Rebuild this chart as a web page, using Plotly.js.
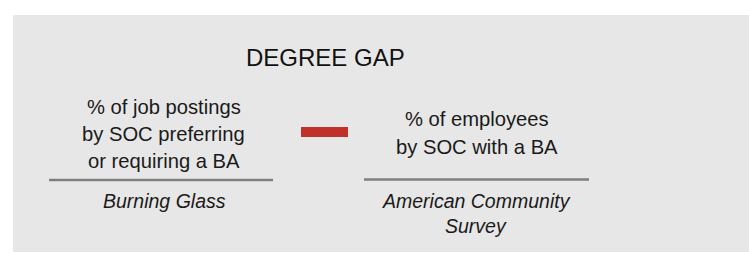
<!DOCTYPE html>
<html>
<head>
<meta charset="utf-8">
<script src="https://cdn.plot.ly/plotly-3.0.1.min.js"></script>
<style>
html,body{margin:0;padding:0;background:#fff;}
#chart{width:749px;height:253px;}
</style>
</head>
<body>
<div id="chart"></div>
<script>
// Text content of the diagram
var titleText = "DEGREE GAP";
var leftLines = ["% of job postings", "by SOC preferring", "or requiring a BA"];
var leftSource = ["Burning Glass"];
var rightLines = ["% of employees", "by SOC with a BA"];
var rightSource = ["American Community", "Survey"];

var FONT = "Liberation Sans, Arial, sans-serif";
var annotations = [];

function addLines(lines, cx, y0, step, size, italic) {
  lines.forEach(function (t, i) {
    annotations.push({
      x: cx, y: y0 + i * step, xref: "x", yref: "y",
      text: italic ? "<i>" + t + "</i>" : t,
      showarrow: false, xanchor: "center", yanchor: "middle",
      font: {family: FONT, size: size, color: "#1a1a1a"}
    });
  });
}

annotations.push({
  x: 325, y: 57, xref: "x", yref: "y", text: titleText, showarrow: false,
  xanchor: "center", yanchor: "middle",
  font: {family: FONT, size: 24, color: "#111"}
});
addLines(leftLines, 163.5, 106.5, 27, 20.2, false);
addLines(leftSource, 164, 201, 25, 19.5, true);
addLines(rightLines, 476.5, 119, 28, 20.2, false);
addLines(rightSource, 476, 201, 25, 19.5, true);

var shapes = [
  {type: "rect", xref: "x", yref: "y", x0: 13, x1: 749, y0: 15, y1: 252,
   fillcolor: "#E7E7E7", line: {width: 0}, layer: "below"},
  {type: "line", xref: "x", yref: "y", x0: 49, x1: 273, y0: 180, y1: 180,
   line: {color: "#7F7F7F", width: 2.5}},
  {type: "line", xref: "x", yref: "y", x0: 364, x1: 589, y0: 179.5, y1: 179.5,
   line: {color: "#7F7F7F", width: 2.5}},
  {type: "rect", xref: "x", yref: "y", x0: 301, x1: 348, y0: 127, y1: 137,
   fillcolor: "#C0312A", line: {width: 0}}
];

var layout = {
  width: 749, height: 253,
  margin: {l: 0, r: 0, t: 0, b: 0, pad: 0},
  paper_bgcolor: "#ffffff", plot_bgcolor: "rgba(0,0,0,0)",
  xaxis: {range: [0, 749], visible: false, fixedrange: true},
  yaxis: {range: [253, 0], visible: false, fixedrange: true},
  showlegend: false,
  shapes: shapes,
  annotations: annotations
};

Plotly.newPlot("chart", [], layout, {displayModeBar: false, staticPlot: true});
</script>
</body>
</html>
